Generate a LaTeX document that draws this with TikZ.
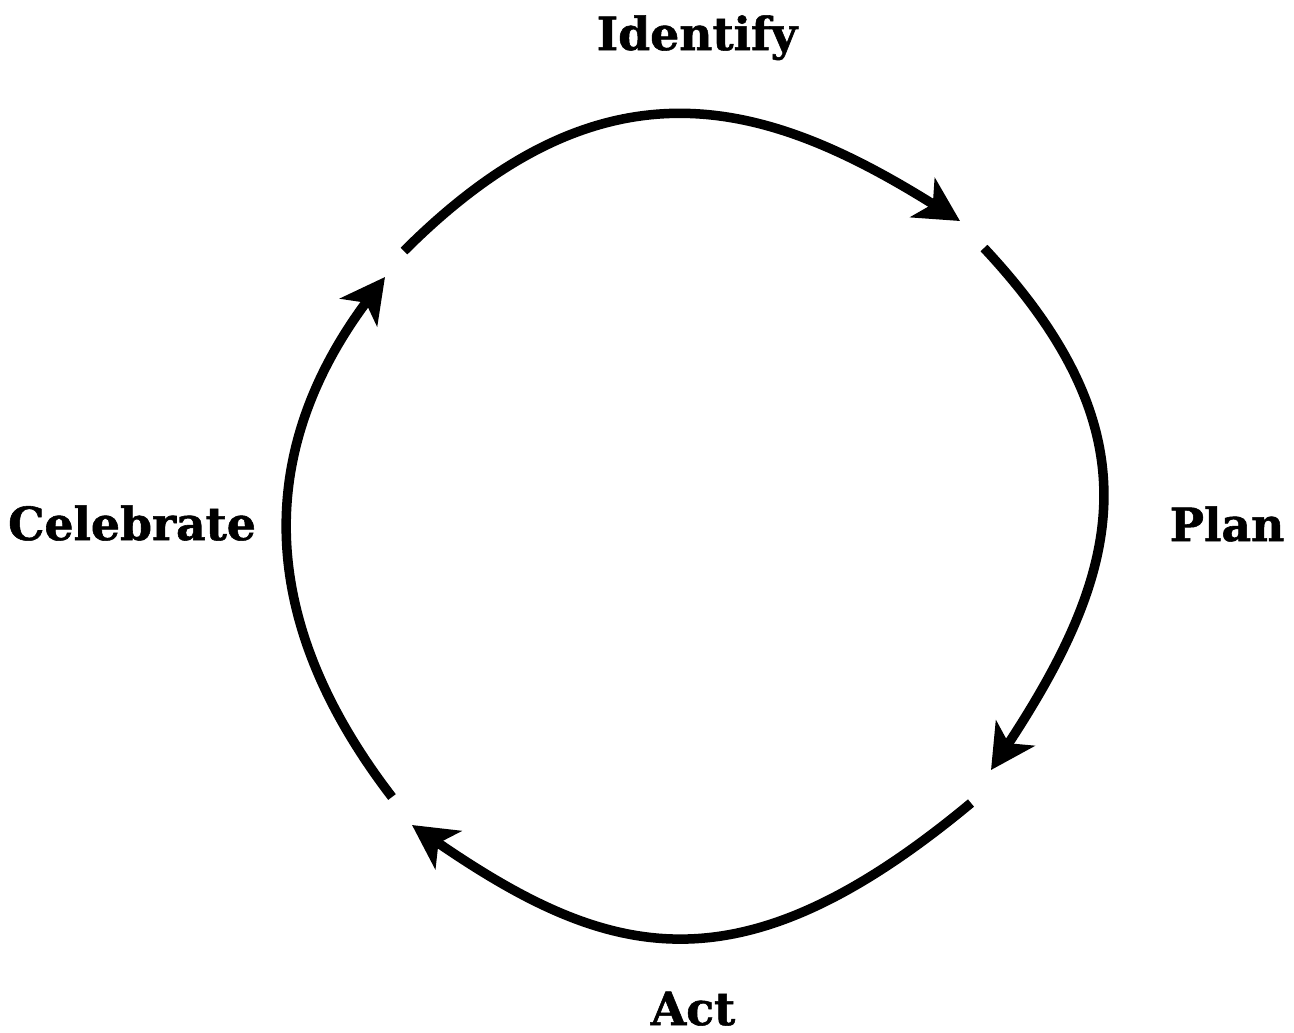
\documentclass[tikz,border=0pt]{standalone}
\usepackage{fontspec}
\newfontfamily\labelfont{DejaVu Serif}[BoldFeatures={FakeBold=1.2}]
\usetikzlibrary{arrows.meta}
\begin{document}
\begin{tikzpicture}[x=0.01cm, y=-0.01cm,
    labelStyle/.style={font=\labelfont\bfseries\fontsize{13}{15}\selectfont, anchor=base, inner sep=0pt},
    arcStyle/.style={line width=0.095cm, -{Stealth[length=0.44cm, width=0.46cm, inset=0.12cm]}}]
                    \useasboundingbox (0, 0) rectangle (1294, 1032);

                    \node[labelStyle](identify) at (697, 50) {Identify};
                    \node[labelStyle](plan) at (1227, 541) {Plan};
                    \node[labelStyle](act) at (693, 1025) {Act};
                    \node[labelStyle](celebrate) at (132, 540) {Celebrate};

                    \coordinate (s1) at (404, 251);
                    \coordinate (e1) at (960, 221);
                    \coordinate (s2) at (984, 248);
                    \coordinate (e2) at (991, 770);
                    \coordinate (s3) at (971, 803);
                    \coordinate (e3) at (412, 825);
                    \coordinate (s4) at (392, 797);
                    \coordinate (e4) at (385, 277);

                    \draw[arcStyle] (s1) .. controls (604, 51) and (765, 99) .. (e1);
                    \draw[arcStyle] (s2) .. controls (1154, 430) and (1126, 565) .. (e2);
                    \draw[arcStyle] (s3) .. controls (740, 995) and (610, 961) .. (e3);
                    \draw[arcStyle] (s4) .. controls (240, 599) and (270, 431) .. (e4);
                \end{tikzpicture}
\end{document}
